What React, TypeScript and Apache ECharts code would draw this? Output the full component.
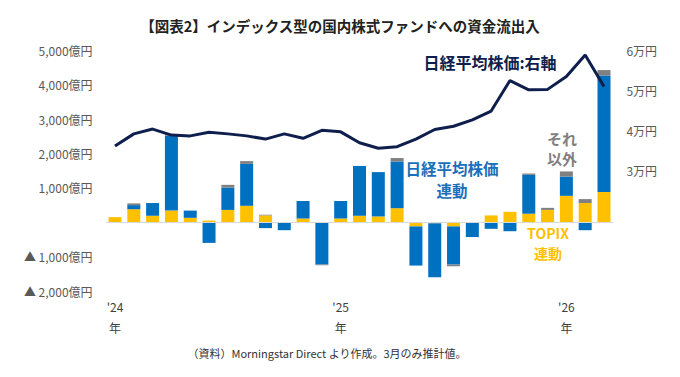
import React, { useEffect, useRef } from "react";
import * as echarts from "echarts";

const months = [
  "2024-01", "2024-02", "2024-03", "2024-04", "2024-05", "2024-06", "2024-07", "2024-08", "2024-09", "2024-10", "2024-11", "2024-12",
  "2025-01", "2025-02", "2025-03", "2025-04", "2025-05", "2025-06", "2025-07", "2025-08", "2025-09", "2025-10", "2025-11", "2025-12",
  "2026-01", "2026-02", "2026-03",
];
// 億円
const topixLinked = [150, 380, 190, 340, 130, 50, 360, 480, 200, 0, 110, 0, 110, 190, 170, 410, -120, -30, -120, 0, 200, 305, 250, 360, 770, 560, 880];
const nikkeiLinked = [0, 120, 370, 2180, 210, -600, 650, 1220, -170, -230, 510, -1230, 510, 1450, 1290, 1360, -1140, -1570, -1110, -430, -190, -260, 1130, 0, 560, -230, 3390];
const others = [0, 50, 0, 40, 0, 0, 80, 80, 20, 0, 0, -20, 0, 0, 0, 100, 0, 0, -50, 0, 0, 0, 40, 60, 150, 115, 160];
// 円 (right axis)
const nikkeiIndex = [36200, 39200, 40400, 38900, 38700, 39600, 39200, 38700, 37900, 39200, 38100, 40100, 39700, 37000, 35600, 36000, 37900, 40300, 41100, 42700, 44900, 52500, 50200, 50300, 53500, 58900, 51000];

const leftTicks = { min: -2000, max: 5000, interval: 1000 };
const rightTicks = { min: 0, max: 60000, interval: 10000, showFrom: 30000 };

const FONT = "'Noto Sans CJK JP', 'Noto Sans', sans-serif";
const YELLOW = "#ffc000";
const BLUE = "#0070c0";
const GRAY = "#808080";
const NAVY = "#0f1f4d";

export default function App() {
  const ref = useRef<HTMLDivElement>(null);
  useEffect(() => {
    document.body.style.margin = "0";
    const chart = echarts.init(ref.current!, undefined, { renderer: "svg" });
    const fmt = (n: number) => n.toLocaleString("en-US");
    const xAxisBase = {
      type: "category",
      data: months,
      position: "bottom",
      axisLine: { show: false, onZero: false },
      axisTick: { show: false },
      splitLine: { show: false },
    };
    chart.setOption({
      animation: false,
      backgroundColor: "#ffffff",
      textStyle: { fontFamily: FONT },
      title: {
        text: "【図表2】インデックス型の国内株式ファンドへの資金流出入",
        left: "center",
        top: 13,
        textStyle: { fontFamily: FONT, fontSize: 14.5, fontWeight: "bold", color: "#222222" },
      },
      grid: { left: 105.6, right: 66.6, top: 50.5, bottom: 86, containLabel: false },
      xAxis: [
        {
          ...xAxisBase,
          axisLabel: {
            interval: 0,
            margin: 9,
            fontSize: 12,
            color: "#404040",
            fontFamily: FONT,
            formatter: (v: string) => (v.endsWith("-01") ? "'" + v.slice(2, 4) : ""),
          },
        },
        {
          ...xAxisBase,
          axisLabel: {
            interval: 0,
            margin: 30,
            fontSize: 12,
            color: "#404040",
            fontFamily: FONT,
            formatter: (v: string) => (v.endsWith("-01") ? "年" : ""),
          },
        },
      ],
      yAxis: [
        {
          type: "value",
          min: leftTicks.min,
          max: leftTicks.max,
          interval: leftTicks.interval,
          splitLine: { show: false },
          axisLine: { show: false },
          axisTick: { show: false },
          axisLabel: {
            margin: 13,
            fontSize: 12,
            color: "#595959",
            fontFamily: FONT,
            formatter: (v: number) => (v === 0 ? "" : v < 0 ? "▲ " + fmt(-v) + "億円" : fmt(v) + "億円"),
          },
        },
        {
          type: "value",
          min: rightTicks.min,
          max: rightTicks.max,
          interval: rightTicks.interval,
          splitLine: { show: false },
          axisLine: { show: false },
          axisTick: { show: false },
          axisLabel: {
            margin: 13,
            fontSize: 12,
            color: "#595959",
            fontFamily: FONT,
            formatter: (v: number) => (v >= rightTicks.showFrom ? v / 10000 + "万円" : ""),
          },
        },
      ],
      series: [
        {
          name: "TOPIX連動",
          type: "bar",
          stack: "flow",
          barWidth: 13,
          data: topixLinked,
          itemStyle: { color: YELLOW },
          markLine: {
            silent: true,
            symbol: "none",
            label: { show: false },
            lineStyle: { color: "#d9d9d9", width: 1, type: "solid" },
            data: [{ yAxis: 0 }],
          },
        },
        { name: "日経平均株価連動", type: "bar", stack: "flow", barWidth: 13, data: nikkeiLinked, itemStyle: { color: BLUE } },
        { name: "それ以外", type: "bar", stack: "flow", barWidth: 13, data: others, itemStyle: { color: GRAY } },
        {
          name: "日経平均株価",
          type: "line",
          yAxisIndex: 1,
          data: nikkeiIndex,
          symbol: "none",
          z: 5,
          lineStyle: { color: NAVY, width: 3 },
        },
      ],
      graphic: [
        {
          type: "text", x: 490, y: 62,
          style: { text: "日経平均株価:右軸", fill: NAVY, font: `bold 16px ${FONT}`, textAlign: "center", textVerticalAlign: "middle" },
        },
        {
          type: "text", x: 452, y: 179,
          style: { text: "日経平均株価\n連動", fill: "#1a6fba", font: `bold 15.5px ${FONT}`, lineHeight: 22, textAlign: "center", textVerticalAlign: "middle" },
        },
        {
          type: "text", x: 562, y: 148,
          style: { text: "それ\n以外", fill: "#7f7f7f", font: `bold 15px ${FONT}`, lineHeight: 20, textAlign: "center", textVerticalAlign: "middle" },
        },
        {
          type: "text", x: 548, y: 243,
          style: { text: "TOPIX\n連動", fill: YELLOW, font: `bold 14px ${FONT}`, lineHeight: 20, textAlign: "center", textVerticalAlign: "middle" },
        },
        {
          type: "text", x: 327, y: 353,
          style: { text: "（資料）Morningstar Direct より作成。3月のみ推計値。", fill: "#333333", font: `11px ${FONT}`, textAlign: "center", textVerticalAlign: "middle" },
        },
      ],
    });
    return () => chart.dispose();
  }, []);
  return <div ref={ref} style={{ position: "absolute", left: 0, top: 0, width: 680, height: 377 }} />;
}
